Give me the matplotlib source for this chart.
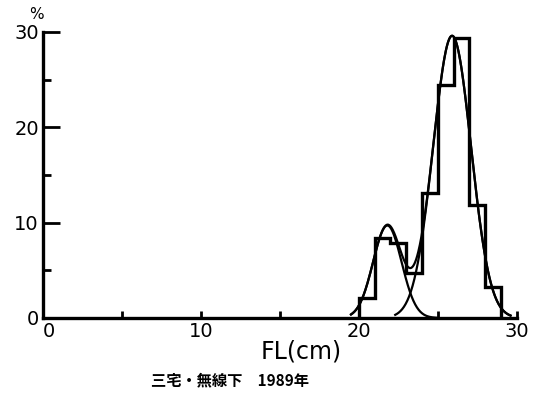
import numpy as np
import matplotlib
matplotlib.use('Agg')
import matplotlib.pyplot as plt

plt.rcParams['font.family'] = ['DejaVu Sans']

# histogram of fork length (1 cm classes), percent
bin_edges = [20, 21, 22, 23, 24, 25, 26, 27, 28, 29]
freq_pct = [2.1, 8.4, 7.9, 4.7, 13.1, 24.4, 29.4, 11.9, 3.3]

# fitted normal components
comp_mean = [21.8, 25.9]
comp_sd = [0.9, 1.2]
comp_peak = [9.7, 29.6]
comp_from = [19.5, 22.3]
comp_to = [25.0, 29.6]

x_major = [0, 10, 20, 30]
x_minor = [5, 15, 25]
y_major = [0, 10, 20, 30]
y_minor = [5, 15, 25]


def normal(x, m, s, h):
    return h * np.exp(-(x - m) ** 2 / (2 * s ** 2))


fig = plt.figure(figsize=(5.33, 4.03), dpi=100)
ax = fig.add_axes([0.0807, 0.211, 0.889, 0.7097])

# histogram
ax.stairs(freq_pct, bin_edges, color='black', linewidth=2.4, baseline=0)

# the two components
for m, s, h, a, b in zip(comp_mean, comp_sd, comp_peak, comp_from, comp_to):
    xs = np.linspace(a, b, 200)
    ax.plot(xs, normal(xs, m, s, h), color='black', linewidth=1.6)

# their sum
xs = np.linspace(min(comp_from), max(comp_to), 300)
total = sum(normal(xs, m, s, h) for m, s, h in zip(comp_mean, comp_sd, comp_peak))
ax.plot(xs, total, color='black', linewidth=1.6)

ax.set_xlim(0, 30)
ax.set_ylim(0, 30)
ax.spines['top'].set_visible(False)
ax.spines['right'].set_visible(False)
ax.spines['left'].set_linewidth(2.4)
ax.spines['bottom'].set_linewidth(2.4)

ax.set_xticks(x_major)
ax.set_xticks(x_minor, minor=True)
ax.set_yticks(y_major)
ax.set_yticks(y_minor, minor=True)
ax.set_xticklabels([str(v) for v in x_major], fontsize=14)
ax.set_yticklabels([str(v) for v in y_major], fontsize=14)
ax.tick_params(axis='x', which='both', direction='in', length=5, width=2, pad=3)
ax.tick_params(axis='y', which='major', direction='in', length=12, width=2, pad=3)
ax.tick_params(axis='y', which='minor', direction='in', length=6, width=2)
# nudge the x "0" a bit right so it sits under the corner like the original
ax.get_xticklabels()[0].set_horizontalalignment('left')
ax.get_xticklabels()[0].set_x(-0.25)

ax.text(-0.4, 31.0, '%', fontsize=11, ha='center', va='bottom', clip_on=False)
ax.set_xlabel('FL(cm)', fontsize=17, labelpad=0)
ax.xaxis.set_label_coords(0.545, -0.075)

fig.text(0.432, 0.055, '三宅・無線下　1989年', fontsize=11, fontweight='bold',
         family=['Noto Sans CJK JP', 'DejaVu Sans'], ha='center', va='center')

plt.savefig('out.png', dpi=100)
plt.close()
